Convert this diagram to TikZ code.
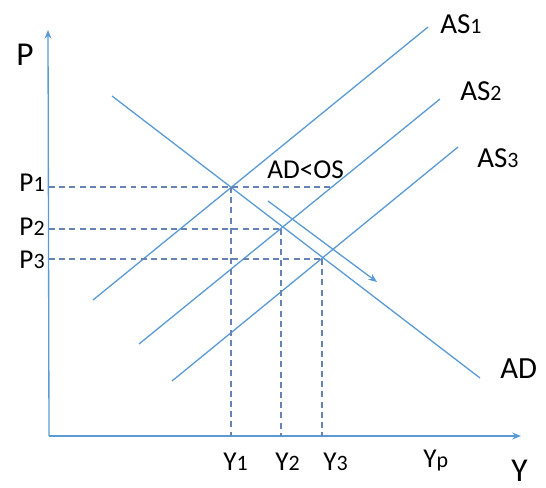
\documentclass[tikz,border=0pt]{standalone}
\usepackage{fontspec}
\setmainfont{Carlito}
\usetikzlibrary{arrows.meta}
\definecolor{curve}{HTML}{5B9BD5}
\definecolor{guide}{HTML}{6683B3}
\newcommand{\sdig}[1]{{\fontsize{12.5}{13}\selectfont #1}}

\begin{document}
\begin{tikzpicture}[x=0.02cm,y=-0.02cm,
  curveline/.style={curve,line width=0.75pt},
  guideline/.style={guide,dash pattern=on 3.4pt off 2.4pt,line width=0.6pt},
  lbl/.style={font=\fontsize{16.5}{18}\selectfont,inner sep=0pt},
  slbl/.style={font=\fontsize{15.5}{17}\selectfont,inner sep=0pt},
]
  \useasboundingbox (0,0) rectangle (546,487);

  \coordinate (O) at (49,436);
  \coordinate (ytop) at (48,30);
  \coordinate (xend) at (521,436);
  \draw[curveline,-{Stealth[length=5pt,width=4pt]}] (O) -- (ytop);
  \draw[curveline,-{Stealth[length=5pt,width=4pt]}] (O) -- (xend);

  \coordinate (as1a) at (93,300);  \coordinate (as1b) at (428,27);
  \coordinate (as2a) at (139,344); \coordinate (as2b) at (440,99);
  \coordinate (as3a) at (172,381); \coordinate (as3b) at (458,147);
  \coordinate (ada) at (112,96);   \coordinate (adb) at (480,378);
  \draw[curveline] (as1a) -- (as1b);
  \draw[curveline] (as2a) -- (as2b);
  \draw[curveline] (as3a) -- (as3b);
  \draw[curveline] (ada) -- (adb);

  \coordinate (E1) at (231,187);
  \coordinate (E2) at (281,229);
  \coordinate (E3) at (322,259);
  \coordinate (p1end) at (330,187);
  \draw[guideline] (E1 -| O) -- (p1end);
  \draw[guideline] (E2 -| O) -- (E2);
  \draw[guideline] (E3 -| O) -- (E3);
  \draw[guideline] (E1) -- (E1 |- O);
  \draw[guideline] (E2) -- (E2 |- O);
  \draw[guideline] (E3) -- (E3 |- O);

  \coordinate (shifta) at (268,201);
  \coordinate (shiftb) at (377,282);
  \draw[curveline,-{Stealth[length=5pt,width=4pt]}] (shifta) -- (shiftb);
  \node[slbl,anchor=base west] (gap) at (267,178) {AD<OS};

  \node[lbl,anchor=base west] (plab) at (16,65) {\fontsize{19}{20}\selectfont P};
  \node[slbl,anchor=base east] (p1) at (45,191) {P\sdig{1}};
  \node[slbl,anchor=base east] (p2) at (45,235) {P\sdig{2}};
  \node[slbl,anchor=base east] (p3) at (45,268) {P\sdig{3}};

  \node[lbl,anchor=base west] (as1) at (440,33) {AS\sdig{1}};
  \node[lbl,anchor=base west] (as2) at (460,100) {AS\sdig{2}};
  \node[lbl,anchor=base west] (as3) at (477,167) {AS\sdig{3}};
  \node[lbl,anchor=base west] (ad) at (500,378) {\fontsize{17.5}{19}\selectfont AD};

  \node[slbl,anchor=base west] (y1) at (223,470) {Y\sdig{1}};
  \node[slbl,anchor=base west] (y2) at (275,470) {Y\sdig{2}};
  \node[slbl,anchor=base west] (y3) at (323,470) {Y\sdig{3}};
  \node[slbl,anchor=base west] (yp) at (423,467) {Y\sdig{p}};
  \node[lbl,anchor=base west] (ylab) at (511,481) {\fontsize{19}{20}\selectfont Y};
\end{tikzpicture}
\end{document}
